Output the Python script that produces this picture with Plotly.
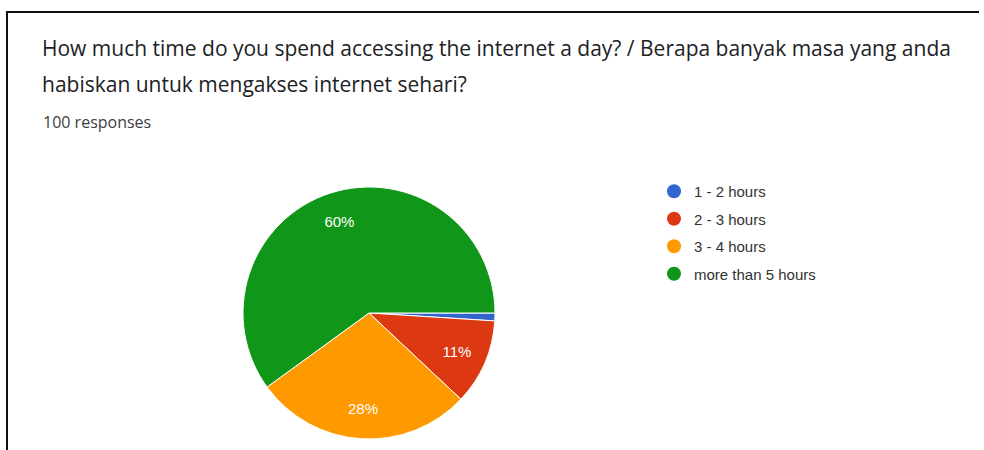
import plotly.graph_objects as go

categories = ["1 - 2 hours", "2 - 3 hours", "3 - 4 hours", "more than 5 hours"]
responses = [1, 11, 28, 60]
colors = ["#3366cc", "#dc3912", "#ff9900", "#109618"]
title_line1 = "How much time do you spend accessing the internet a day? / Berapa banyak masa yang anda"
title_line2 = "habiskan untuk mengakses internet sehari?"
subtitle = "100 responses"

W, H = 984, 450
cx, cy, r = 369, 313, 126
pie_domain = dict(x=[(cx - r) / W, (cx + r) / W], y=[(H - cy - r) / H, (H - cy + r) / H])

fig = go.Figure()
# filled pie
fig.add_trace(go.Pie(
    labels=categories,
    values=responses,
    marker=dict(colors=colors, line=dict(color="white", width=1)),
    sort=False,
    direction="clockwise",
    rotation=90,
    textinfo="none",
    showlegend=False,
    hoverinfo="skip",
    domain=pie_domain,
))
# transparent ring carrying the percentage labels further out
fig.add_trace(go.Pie(
    labels=categories,
    values=responses,
    hole=0.52,
    marker=dict(colors=["rgba(0,0,0,0)"] * len(categories), line=dict(width=0)),
    sort=False,
    direction="clockwise",
    rotation=90,
    textinfo="percent",
    textposition=["none", "inside", "inside", "inside"],
    insidetextorientation="horizontal",
    textfont=dict(family="Arial", size=15, color="white"),
    showlegend=False,
    hoverinfo="skip",
    domain=pie_domain,
))

for i, (name, col) in enumerate(zip(categories, colors)):
    fig.add_trace(go.Scatter(
        x=[None], y=[None], mode="markers", name=name,
        marker=dict(symbol="circle", size=14, color=col),
        legendgroup=str(i), showlegend=True, hoverinfo="skip",
    ))

fig.update_layout(
    width=W, height=H,
    margin=dict(l=0, r=0, t=0, b=0),
    paper_bgcolor="white", plot_bgcolor="white",
    xaxis=dict(visible=False), yaxis=dict(visible=False),
    legend=dict(
        x=654 / W, y=1 - 175 / H, xanchor="left", yanchor="top",
        font=dict(family="Arial", size=15, color="#333333"),
        tracegroupgap=5, itemsizing="trace", bgcolor="rgba(0,0,0,0)",
    ),
    annotations=[
        dict(text=title_line1, x=40 / W, y=1 - 48 / H, xref="paper", yref="paper",
             xanchor="left", yanchor="middle", showarrow=False,
             font=dict(family="Open Sans", size=21, color="#202124")),
        dict(text=title_line2, x=40 / W, y=1 - 84 / H, xref="paper", yref="paper",
             xanchor="left", yanchor="middle", showarrow=False,
             font=dict(family="Open Sans", size=21, color="#202124")),
        dict(text=subtitle, x=41 / W, y=1 - 122 / H, xref="paper", yref="paper",
             xanchor="left", yanchor="middle", showarrow=False,
             font=dict(family="Open Sans", size=16, color="#3c4043")),
    ],
    shapes=[
        dict(type="line", xref="paper", yref="paper", x0=6 / W, x1=979 / W,
             y0=1 - 12 / H, y1=1 - 12 / H, line=dict(color="#111111", width=2)),
        dict(type="line", xref="paper", yref="paper", x0=7 / W, x1=7 / W,
             y0=0, y1=1 - 12 / H, line=dict(color="#111111", width=2)),
    ],
)

fig.write_html("out.html")
